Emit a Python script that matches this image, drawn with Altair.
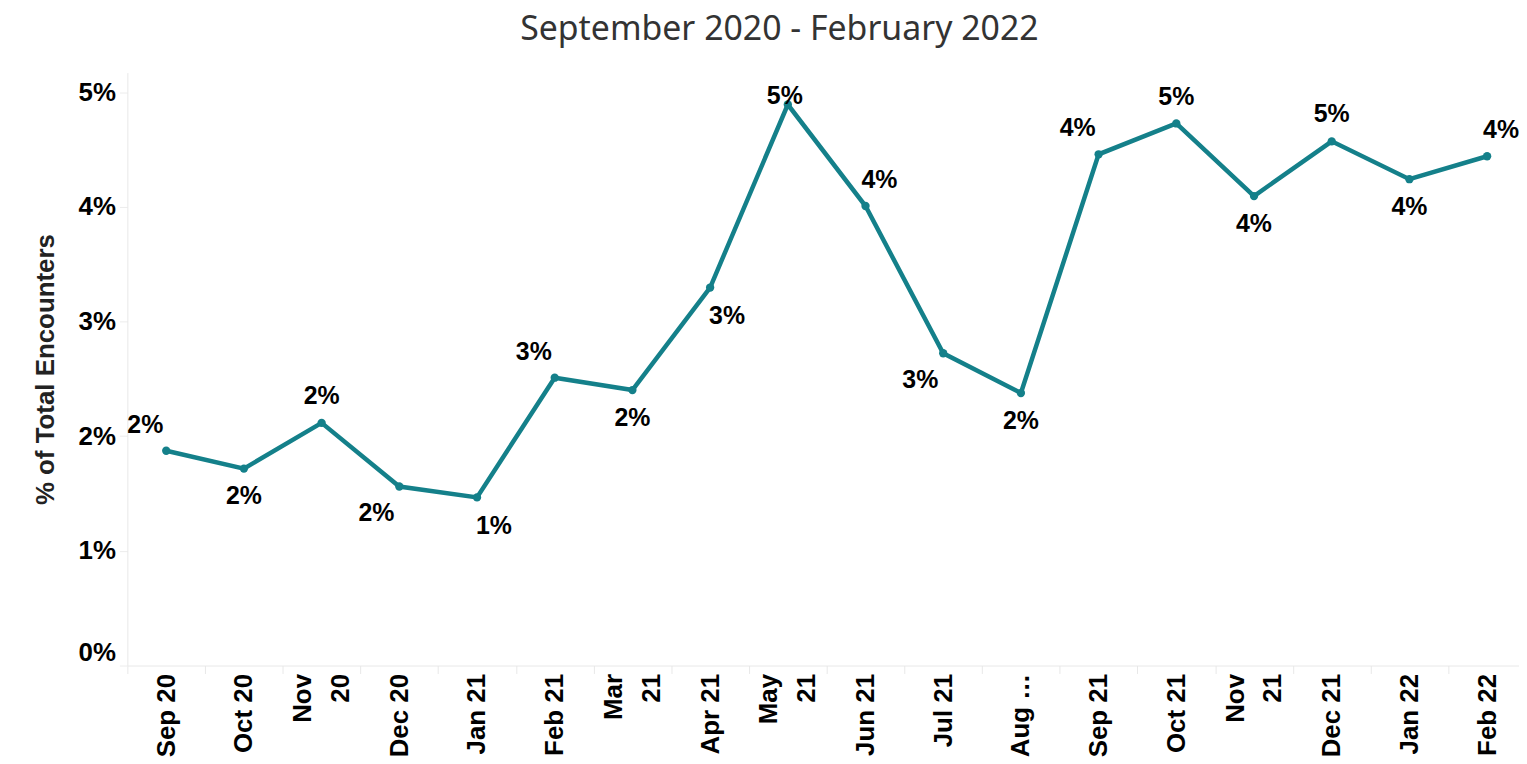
import json
import altair as alt
import pandas as pd

months = ["Sep 20", "Oct 20", "Nov 20", "Dec 20", "Jan 21", "Feb 21", "Mar 21",
          "Apr 21", "May 21", "Jun 21", "Jul 21", "Aug 21", "Sep 21", "Oct 21",
          "Nov 21", "Dec 21", "Jan 22", "Feb 22"]
tick_labels = ["Sep 20", "Oct 20", "Nov|20", "Dec 20", "Jan 21", "Feb 21", "Mar|21",
               "Apr 21", "May|21", "Jun 21", "Jul 21", "Aug …", "Sep 21", "Oct 21",
               "Nov|21", "Dec 21", "Jan 22", "Feb 22"]
share = [0.01873, 0.01717, 0.02116, 0.01561, 0.01466, 0.02510, 0.02402,
         0.03296, 0.04892, 0.04007, 0.02723, 0.02376, 0.04458, 0.04727,
         0.04094, 0.04571, 0.04241, 0.04441]
y_ticks = [0, 0.01, 0.02, 0.03, 0.04, 0.05]

# label placement groups (which side of the point each value label sits)
above_center = ["Nov 20", "Oct 21", "Dec 21"]
above_left = ["Sep 20", "Feb 21", "Sep 21"]
above_right = ["Jun 21", "Feb 22"]
top_clamped = ["May 21"]
below_center = ["Oct 20", "Mar 21", "Aug 21", "Nov 21", "Jan 22"]
below_left = ["Dec 20", "Jul 21"]
below_right = ["Jan 21", "Apr 21"]

df = pd.DataFrame({"month": months, "share": share})

TEAL = "#14808A"
FONT = "Liberation Sans"

months_js = json.dumps(months)
labels_js = json.dumps(tick_labels, ensure_ascii=False)
label_expr = ("indexof(%s, datum.value) < 0 ? '' : "
              "split(%s[indexof(%s, datum.value)], '|')") % (months_js, labels_js, months_js)
two_line = json.dumps([m for m, t in zip(months, tick_labels) if "|" in t])

base = alt.Chart(df).encode(
    x=alt.X("month:N", sort=months,
            scale=alt.Scale(type="band", paddingInner=0, paddingOuter=0,
                            range=[0, 1406]),
            axis=alt.Axis(title=None, labelAngle=270, labelFont=FONT,
                          labelFontWeight="bold", labelFontSize=26,
                          labelColor="#000", labelLineHeight=38,
                          labelPadding=0, tickSize=8, tickColor="#e8e8e8",
                          tickBand="extent", domainColor="#e8e8e8",
                          labelExpr=label_expr, labelOverlap=False,
                          labelBound=False, labelLimit=0,
                          labelOffset={"condition": {
                              "test": "indexof(%s, datum.value) >= 0" % two_line,
                              "value": -19}, "value": 0})),
    y=alt.Y("share:Q",
            scale=alt.Scale(domain=[0, 0.0517], nice=False, zero=True),
            axis=alt.Axis(title="% of Total Encounters", values=y_ticks,
                          format=".0%", titleFont=FONT, titleFontSize=26,
                          titleFontWeight="bold", titleColor="#222",
                          titlePadding=20, labelFont=FONT, labelFontSize=26,
                          labelFontWeight="bold", labelColor="#000",
                          labelPadding=4, tickSize=8, tickColor="#ececec",
                          domainColor="#e8e8e8", grid=False,
                          labelFlush=True, labelFlushOffset=0)),
)

line = base.mark_line(color=TEAL, strokeWidth=4.5)
points = base.mark_point(filled=True, color=TEAL, size=70, opacity=1)

groups = [
    (above_center, 0, -27),
    (above_left, -21, -26),
    (above_right, 14, -26),
    (top_clamped, -3, -9),
    (below_center, 0, 28),
    (below_left, -23, 27),
    (below_right, 17, 29),
]
texts = []
for members, dx, dy in groups:
    texts.append(
        base.mark_text(dx=dx, dy=dy, font=FONT, fontSize=25,
                       fontWeight="bold", color="#000", baseline="middle",
                       align="center")
        .encode(text=alt.Text("share:Q", format=".0%"))
        .transform_filter(alt.FieldOneOfPredicate(field="month", oneOf=members))
    )

chart = alt.layer(line, points, *texts).properties(
    width=1399,
    height=596,
    title=alt.TitleParams("September 2020 - February 2022", font="Noto Sans",
                          fontSize=34, fontWeight="normal", color="#333",
                          offset=26, anchor="middle", frame="bounds"),
    autosize=alt.AutoSizeParams(type="none"),
    padding={"left": 120, "top": 63, "right": 0, "bottom": 95},
).configure_view(stroke=None)

chart.save("out.html", embed_options={"renderer": "svg", "actions": False})
